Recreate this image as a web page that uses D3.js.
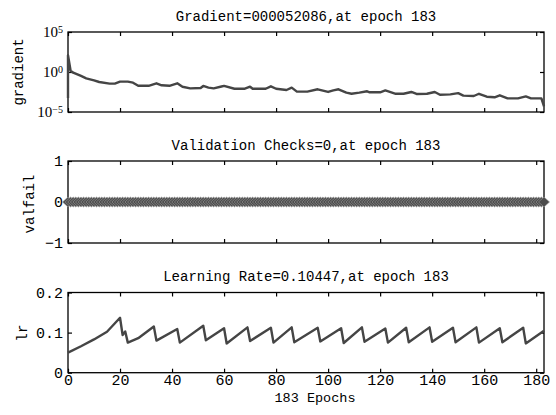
<!DOCTYPE html>
<html>
<head>
<meta charset="utf-8">
<script src="https://cdn.jsdelivr.net/npm/d3@7"></script>
<style>
body{margin:0;background:#fff}
svg{display:block}
</style>
</head>
<body>
<svg></svg>
<script>
// gradient curve at its corners (epoch, value)
var gradEpochs = [0,0,1,2,5,7,10,12,16,18,20,23,25,27,31,34,36,39,42,44,47,51,52,54,56,59,60,64,68,70,71,76,78,80,84,86,88,92,96,100,102,104,107,109,112,115,116,120,122,126,129,132,134,138,141,143,147,150,152,156,158,161,164,166,169,173,176,178,182,183];
var gradValues = [5.6e-4,126,1.45,0.81,0.32,0.16,0.091,0.056,0.035,0.035,0.062,0.062,0.046,0.019,0.019,0.039,0.022,0.019,0.039,0.0145,0.0091,0.010,0.018,0.011,0.0091,0.0155,0.0186,0.0081,0.0081,0.0145,0.0081,0.0081,0.0162,0.0081,0.0056,0.011,0.0035,0.0035,0.0069,0.0032,0.0051,0.0069,0.0026,0.0019,0.0026,0.0039,0.0029,0.0029,0.0049,0.0019,0.0019,0.0032,0.0018,0.0019,0.0032,0.00145,0.0016,0.0023,0.0011,0.001,0.0019,0.00081,0.00069,0.00123,0.00051,0.00051,0.00091,0.00051,0.00051,5.2086e-5];

// validation checks, one per epoch 0..183
var valfail = [
0,0,0,0,0,0,0,0,0,0,0,0,0,0,0,0,0,0,0,0,0,0,0,
0,0,0,0,0,0,0,0,0,0,0,0,0,0,0,0,0,0,0,0,0,0,0,
0,0,0,0,0,0,0,0,0,0,0,0,0,0,0,0,0,0,0,0,0,0,0,
0,0,0,0,0,0,0,0,0,0,0,0,0,0,0,0,0,0,0,0,0,0,0,
0,0,0,0,0,0,0,0,0,0,0,0,0,0,0,0,0,0,0,0,0,0,0,
0,0,0,0,0,0,0,0,0,0,0,0,0,0,0,0,0,0,0,0,0,0,0,
0,0,0,0,0,0,0,0,0,0,0,0,0,0,0,0,0,0,0,0,0,0,0,
0,0,0,0,0,0,0,0,0,0,0,0,0,0,0,0,0,0,0,0,0,0,0];

// learning rate sawtooth (epoch, value)
var lrEpochs = [0,5,10,15,20,21,22,23,27,33,34,42,43,52,53,60,61,69,70,78,79,86,87,96,97,105,106,113,114,122,123,130,131,139,140,148,149,157,158,166,167,175,176,183];
var lrValues = [0.050,0.066,0.083,0.102,0.137,0.094,0.103,0.075,0.086,0.115,0.080,0.109,0.075,0.117,0.081,0.111,0.073,0.113,0.079,0.112,0.075,0.113,0.076,0.112,0.078,0.111,0.074,0.113,0.077,0.110,0.075,0.112,0.076,0.113,0.077,0.112,0.076,0.113,0.075,0.111,0.076,0.112,0.073,0.1045];

var xTicks = [0,20,40,60,80,100,120,140,160,180];
var titles = ["Gradient=000052086,at epoch 183",
              "Validation Checks=0,at epoch 183",
              "Learning Rate=0.10447,at epoch 183"];
var yLabels = ["gradient","valfail","lr"];

var MONO = "'Liberation Mono', 'DejaVu Sans Mono', monospace";
var SERIF = "'Liberation Serif', serif";

var screen = {width:556,height:415};
var left = 68, right = 544;
var panels = [{top:32,bottom:112},{top:161,bottom:243},{top:292.5,bottom:372.7}];

var svg = d3.select("svg")
    .attr("width",screen.width)
    .attr("height",screen.height);

var xScale = d3.scaleLinear().domain([0,183]).range([left,right]);

var drawFrame = function(p,yScale,yTicks,yFmt,showX)
{
    var g = svg.append("g");

    var bottomAxis = g.append("g")
        .attr("transform","translate(0,"+p.bottom+")")
        .call(d3.axisBottom(xScale).tickValues(xTicks)
              .tickSizeInner(-4).tickSizeOuter(0).tickPadding(2)
              .tickFormat(showX ? d3.format("d") : ""));
    g.append("g")
        .attr("transform","translate(0,"+p.top+")")
        .call(d3.axisTop(xScale).tickValues(xTicks)
              .tickSizeInner(-4).tickSizeOuter(0).tickFormat(""));
    var leftAxis = g.append("g")
        .attr("transform","translate("+left+",0)")
        .call(d3.axisLeft(yScale).tickValues(yTicks)
              .tickSizeInner(-4).tickSizeOuter(0).tickPadding(5)
              .tickFormat(yFmt));
    g.append("g")
        .attr("transform","translate("+right+",0)")
        .call(d3.axisRight(yScale).tickValues(yTicks)
              .tickSizeInner(-4).tickSizeOuter(0).tickFormat(""));

    g.selectAll(".domain").remove();
    g.selectAll(".tick line").attr("stroke","#000").attr("stroke-width",1.2);
    g.selectAll("g").attr("font-family",MONO).attr("font-size",15);
    bottomAxis.attr("font-size",14);
    g.selectAll(".tick text").attr("fill","#000");

    g.append("rect")
        .attr("x",left).attr("y",p.top)
        .attr("width",right-left).attr("height",p.bottom-p.top)
        .attr("fill","none").attr("stroke","#000").attr("stroke-width",1.3);

    return {g:g,left:leftAxis,bottom:bottomAxis};
}

var drawTitle = function(text,y)
{
    svg.append("text")
        .text(text)
        .attr("x",(left+right)/2)
        .attr("y",y)
        .attr("text-anchor","middle")
        .attr("font-family",MONO)
        .attr("font-size",14)
        .attr("fill","#000");
}

var drawYLabel = function(text,cx,cy)
{
    svg.append("text")
        .text(text)
        .attr("transform","translate("+cx+","+cy+") rotate(-90)")
        .attr("dy","0.35em")
        .attr("text-anchor","middle")
        .attr("font-family",MONO)
        .attr("font-size",14)
        .attr("fill","#000");
}

// ---- panel 1 : gradient (log scale)
var yGrad = d3.scaleLog().domain([1e-5,1e5]).range([panels[0].bottom,panels[0].top]);
var f1 = drawFrame(panels[0],yGrad,[1e-5,1,1e5],"",false);
f1.left.selectAll(".tick text")
    .attr("font-family",SERIF)
    .attr("font-size",15)
    .attr("fill","#000")
    .each(function(d){
        var t = d3.select(this);
        var e = Math.round(Math.log10(d));
        t.append("tspan").text("10");
        t.append("tspan").attr("dy","-0.45em").attr("font-size",10)
            .text(e<0 ? "\u2212"+(-e) : e);
    });

var gradLine = d3.line()
    .x(function(d){return xScale(d[0]);})
    .y(function(d){return yGrad(d[1]);});
svg.append("path")
    .datum(d3.zip(gradEpochs,gradValues))
    .attr("d",gradLine)
    .attr("fill","none")
    .attr("stroke","#454545")
    .attr("stroke-width",2.4)
    .attr("stroke-linejoin","round");

// ---- panel 2 : validation checks
var yVal = d3.scaleLinear().domain([-1,1]).range([panels[1].bottom,panels[1].top]);
drawFrame(panels[1],yVal,[-1,0,1],d3.format("d"),false);

svg.append("path")
    .datum(valfail)
    .attr("d",d3.line().x(function(d,i){return xScale(i);}).y(function(d){return yVal(d);}))
    .attr("fill","none").attr("stroke","#444").attr("stroke-width",2);

svg.append("g").selectAll("path")
    .data(valfail)
    .enter()
    .append("path")
    .attr("transform",function(d,i){return "translate("+xScale(i)+","+yVal(d)+")";})
    .attr("d","M-5.5,0L0,-5L5.5,0L0,5Z")
    .attr("fill","#4d4d4d")
    .attr("stroke","#9a9a9a")
    .attr("stroke-width",0.6);

// ---- panel 3 : learning rate
var yLr = d3.scaleLinear().domain([0,0.2]).range([panels[2].bottom,panels[2].top]);
drawFrame(panels[2],yLr,[0,0.1,0.2],function(d){return d===0?"0":d3.format(".1f")(d);},true);

svg.append("path")
    .datum(d3.zip(lrEpochs,lrValues))
    .attr("d",d3.line()
          .x(function(d){return xScale(d[0]);})
          .y(function(d){return yLr(d[1]);}))
    .attr("fill","none")
    .attr("stroke","#454545")
    .attr("stroke-width",2.4)
    .attr("stroke-linejoin","round");

// ---- titles and labels
drawTitle(titles[0],20.5);
drawTitle(titles[1],150);
drawTitle(titles[2],281);

drawYLabel(yLabels[0],18,72);
drawYLabel(yLabels[1],29,204);
drawYLabel(yLabels[2],22,333);

svg.append("text")
    .text("183 Epochs")
    .attr("x",315)
    .attr("y",402)
    .attr("text-anchor","middle")
    .attr("font-family",MONO)
    .attr("font-size",13.5)
    .attr("fill","#000");
</script>
</body>
</html>
